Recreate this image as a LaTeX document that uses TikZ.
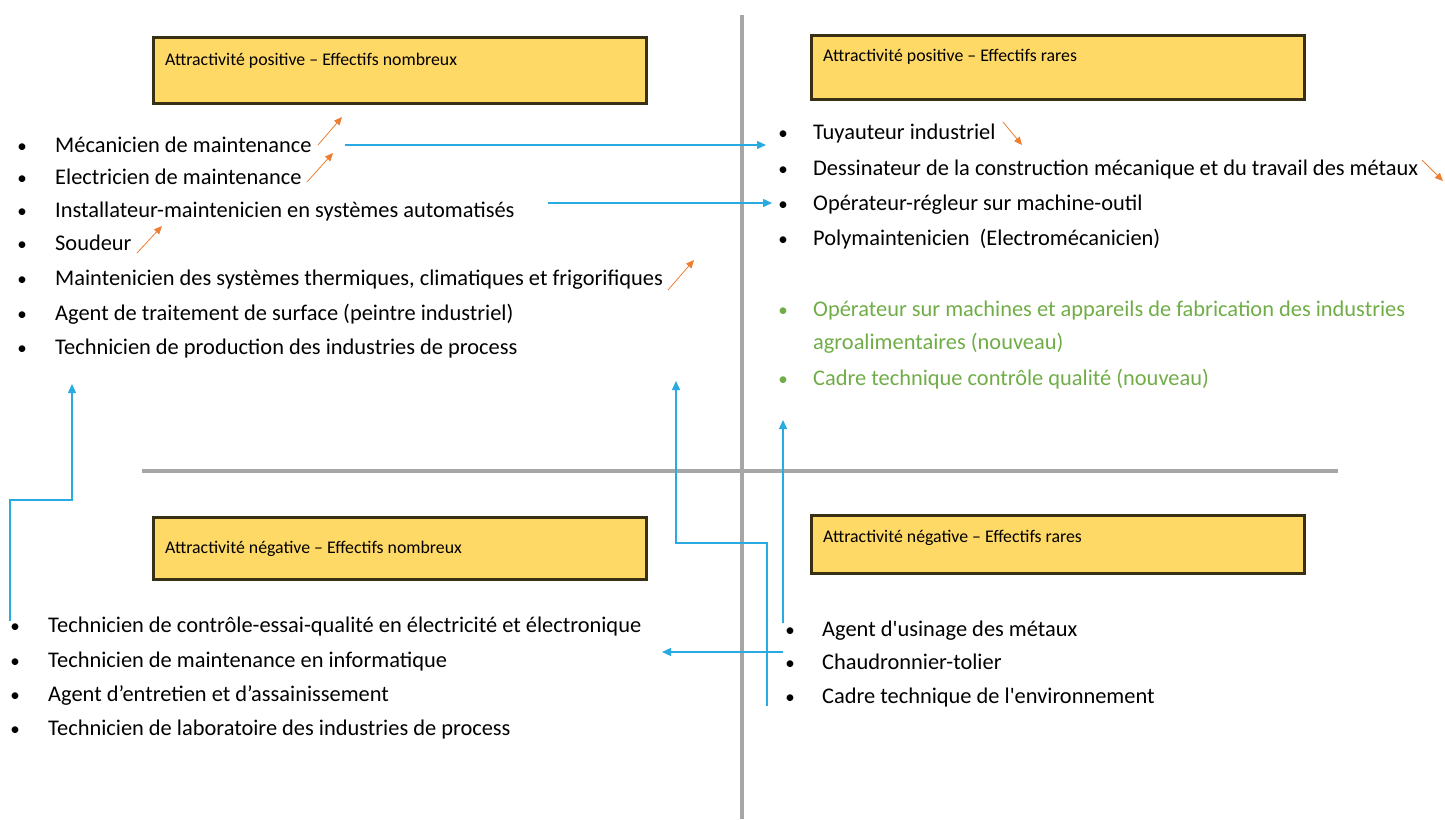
\documentclass[tikz,border=0pt]{standalone}
\usepackage{fontspec}
\setmainfont{Carlito}[Ligatures=TeXOff]
\usetikzlibrary{arrows.meta}
\definecolor{gold}{RGB}{255,217,102}
\definecolor{goldedge}{RGB}{55,48,20}
\definecolor{cyanA}{RGB}{41,171,226}
\definecolor{orangeA}{RGB}{237,125,49}
\definecolor{greenA}{RGB}{112,173,71}
\definecolor{grayL}{RGB}{166,166,166}
\tikzset{
  item/.style={anchor=base west, inner sep=0pt, font=\fontsize{22.4}{26}\selectfont},
  bul/.style={anchor=base, inner sep=0pt, font=\fontsize{19}{23}\selectfont},
  hdr/.style={draw=goldedge, fill=gold, line width=2.5pt, anchor=north west, minimum width=493pt, inner sep=0pt},
  hdrtext/.style={anchor=base west, inner sep=0pt, font=\fontsize{17.8}{20}\selectfont},
  bluearrow/.style={draw=cyanA, line width=1.4pt, -{Triangle[length=9pt,width=8pt]}},
  trend/.style={draw=orangeA, line width=0.8pt, -{Triangle[length=8pt,width=7pt]}},
  axis/.style={draw=grayL, line width=3.5pt}
}
\begin{document}
\begin{tikzpicture}[x=1pt,y=-1pt]
\useasboundingbox (0,0) rectangle (1445,819);
% axes
\draw[axis] (742,15) -- (742,819);
\draw[axis] (142,471) -- (1338,471);
% header boxes
\node[hdr, minimum height=66pt] (h1) at (152,36) {};
\node[hdr, minimum height=64pt] (h2) at (810,34) {};
\node[hdr, minimum height=62pt] (h3) at (152,516) {};
\node[hdr, minimum height=58pt] (h4) at (810,514) {};
\node[hdrtext] (t1) at (165,65) {Attractivité positive – Effectifs nombreux};
\node[hdrtext] (t2) at (823,61) {Attractivité positive – Effectifs rares};
\node[hdrtext] (t3) at (165,553) {Attractivité négative – Effectifs nombreux};
\node[hdrtext] (t4) at (823,542) {Attractivité négative – Effectifs rares};
% top-left list
\foreach \y in {152,184,217,250,285,320,354} \node[bul] at (22,\y) {•};
\node[item] (a1) at (55,152) {Mécanicien de maintenance};
\node[item] (a2) at (55,184) {Electricien de maintenance};
\node[item] (a3) at (55,217) {Installateur-maintenicien en systèmes automatisés};
\node[item] (a4) at (55,250) {Soudeur};
\node[item] (a5) at (55,285) {Maintenicien des systèmes thermiques, climatiques et frigorifiques};
\node[item] (a6) at (55,320) {Agent de traitement de surface (peintre industriel)};
\node[item] (a7) at (55,354) {Technicien de production des industries de process};
% top-right list
\foreach \y in {139,175,210,245} \node[bul] at (783,\y) {•};
\node[item] (b1) at (813,139) {Tuyauteur industriel};
\node[item] (b2) at (813,175) {Dessinateur de la construction mécanique et du travail des métaux};
\node[item] (b3) at (813,210) {Opérateur-régleur sur machine-outil};
\node[item] (b4) at (813,245) {Polymaintenicien\ \ (Electromécanicien)};
\foreach \y in {316,385} \node[bul, text=greenA] at (783,\y) {•};
\node[item, text=greenA] (b5) at (813,316) {Opérateur sur machines et appareils de fabrication des industries};
\node[item, text=greenA] (b5b) at (813,349) {agroalimentaires (nouveau)};
\node[item, text=greenA] (b6) at (813,385) {Cadre technique contrôle qualité (nouveau)};
% bottom-left list
\foreach \y in {632,667,701,735} \node[bul] at (15,\y) {•};
\node[item] (c1) at (48,632) {Technicien de contrôle-essai-qualité en électricité et électronique};
\node[item] (c2) at (48,667) {Technicien de maintenance en informatique};
\node[item] (c3) at (48,701) {Agent d’entretien et d’assainissement};
\node[item] (c4) at (48,735) {Technicien de laboratoire des industries de process};
% bottom-right list
\foreach \y in {636,669,703} \node[bul] at (790,\y) {•};
\node[item] (d1) at (822,636) {Agent d'usinage des métaux};
\node[item] (d2) at (822,669) {Chaudronnier-tolier};
\node[item] (d3) at (822,703) {Cadre technique de l'environnement};
% orange trend arrows
\coordinate (o1s) at (318,145); \coordinate (o1e) at (342,117);
\coordinate (o2s) at (307,182); \coordinate (o2e) at (333,153);
\coordinate (o3s) at (137,253); \coordinate (o3e) at (162,226);
\coordinate (o4s) at (668,290); \coordinate (o4e) at (694,260);
\coordinate (o5s) at (1003,122); \coordinate (o5e) at (1022,145);
\coordinate (o6s) at (1422,160); \coordinate (o6e) at (1443,181);
\foreach \s/\e in {o1s/o1e,o2s/o2e,o3s/o3e,o4s/o4e,o5s/o5e,o6s/o6e} \draw[trend] (\s) -- (\e);
% blue arrows
\coordinate (p1s) at (345,145); \coordinate (p1e) at (766,145);
\coordinate (p2s) at (548,203); \coordinate (p2e) at (772,203);
\draw[bluearrow] (p1s) -- (p1e);
\draw[bluearrow] (p2s) -- (p2e);
\coordinate (p3s) at (10,621); \coordinate (p3e) at (72,384);
\draw[bluearrow] (p3s) -- (10,500) -- (72,500) -- (p3e);
\coordinate (p4s) at (767,706); \coordinate (p4e) at (676,381);
\draw[bluearrow] (p4s) -- (767,543) -- (676,543) -- (p4e);
\coordinate (p5s) at (783,623); \coordinate (p5e) at (783,420);
\draw[bluearrow] (p5s) -- (p5e);
\coordinate (p6s) at (783,652); \coordinate (p6e) at (662,652);
\draw[bluearrow] (p6s) -- (p6e);
\end{tikzpicture}
\end{document}
